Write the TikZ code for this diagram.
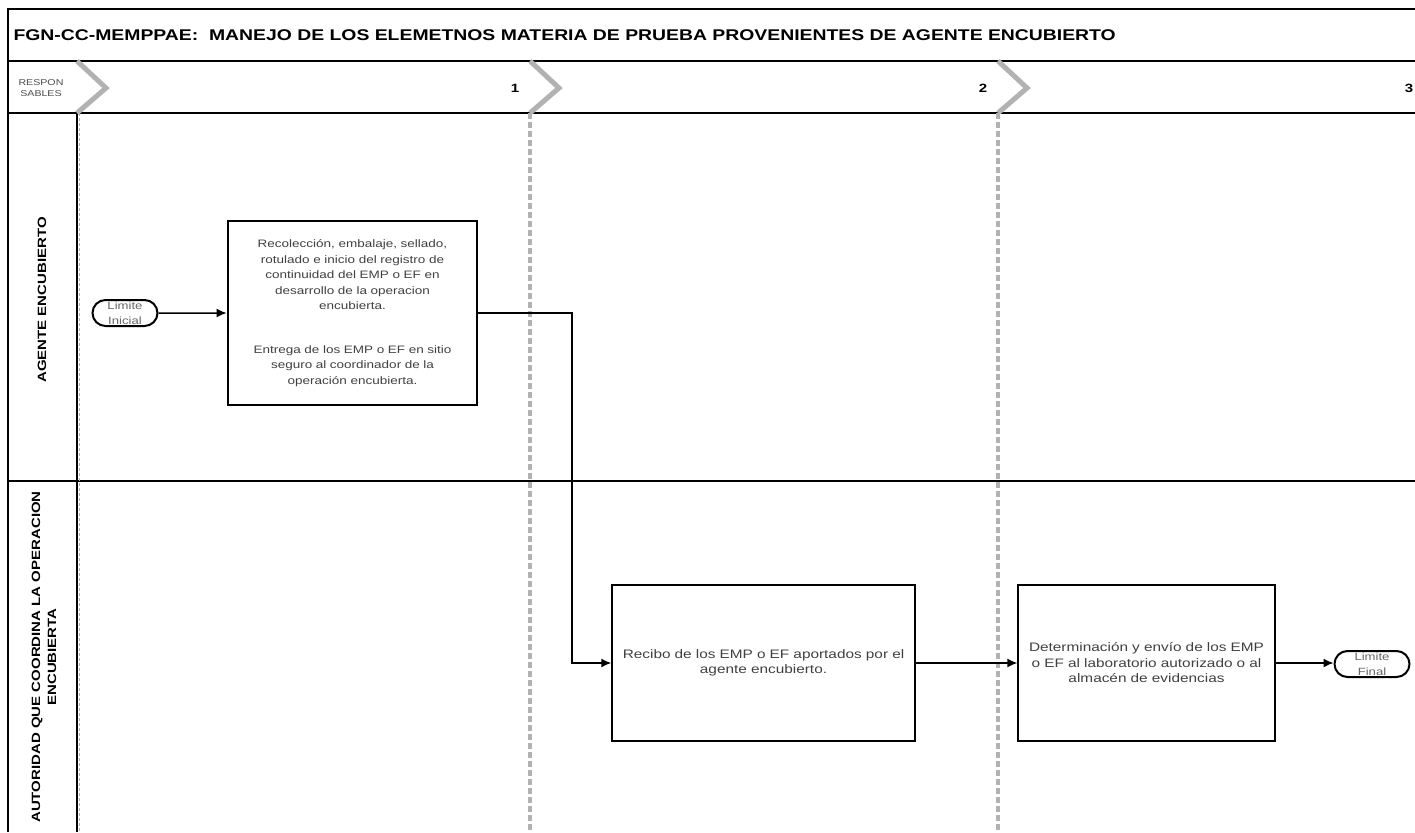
\documentclass[tikz,border=0pt]{standalone}
\usepackage{fontspec}
\setmainfont[FakeStretch=1.25]{Liberation Sans}
\usetikzlibrary{shapes.misc,positioning,arrows.meta}

\def\ttl{9}
\def\hdr{61}
\def\lns{113}
\def\lnb{481}
\def\W{1415}
\def\H{832}

\begin{document}
\begin{tikzpicture}[x=1pt,y=-1pt]
			\tikzset{flow/.style={-{Latex[length=10pt,width=9pt]}, line width=1.5pt},
				act/.style={draw, line width=1.5pt, align=center, text=black!75,
					font=\fontsize{12.3}{15.5}\selectfont},
				lim/.style={draw, rounded rectangle, line width=2pt, minimum height=26pt,
					inner sep=0pt, align=center, text=black!60,
					font=\fontsize{10.5}{15}\selectfont},
				chev/.style={draw=black!30, line width=5pt},
				sep/.style={draw=black!30, line width=4pt, dash pattern=on 6pt off 3pt},
				frame/.style={draw, line width=1.5pt},
				lane/.style={rotate=90, align=center, font=\bfseries\fontsize{12}{16}\selectfont},
				num/.style={font=\bfseries\fontsize{12}{14}\selectfont}}
			\useasboundingbox (0,0) rectangle (\W,\H);
			% marco
			\draw[frame] (\W,\ttl) -- (8,\ttl) -- (8,\H);
			\draw[frame] (8,\hdr) -- (\W,\hdr);
			\draw[frame] (8,\lns) -- (\W,\lns);
			\draw[frame] (8,\lnb) -- (\W,\lnb);
			\draw[frame] (77,\lns) -- (77,\H);
			\draw[draw=black!30, line width=1pt, dash pattern=on 3pt off 2pt] (79.5,\lns) -- (79.5,\H);
			\node[anchor=west, font=\bfseries\fontsize{15.5}{17}\selectfont] (title) at (10,35)
				{FGN-CC-MEMPPAE:\ \ MANEJO DE LOS ELEMETNOS MATERIA DE PRUEBA PROVENIENTES DE AGENTE ENCUBIERTO};
			% fases
			\node[align=center, text=black!70, font=\fontsize{8.5}{11}\selectfont] (resp) at (41,88) {RESPON\\SABLES};
			\foreach \x in {77,530,998}
				\draw[chev] (\x,\hdr) -- (\x+29,88) -- (\x,\lns);
			\foreach \x in {530,998}
				\draw[sep] (\x,\lns) -- (\x,\H);
			\node[num] (n1) at (515,88) {1};
			\node[num] (n2) at (983,88) {2};
			\node[num] (n3) at (1409,88) {3};
			% carriles
			\node[lane] (l1) at (42,300) {AGENTE ENCUBIERTO};
			\node[lane] (l2) at (44,657) {AUTORIDAD QUE COORDINA LA OPERACION\\ENCUBIERTA};
			% actividades
			\node[lim, minimum width=65pt] (ini) at (125,313) {Limite\\Inicial};
			\node[act, line width=2.8pt, minimum width=249pt, minimum height=184pt, text width=240pt,
				font=\fontsize{10.8}{15.5}\selectfont] (act1) at (352.5,313)
				{Recolección, embalaje, sellado,\\rotulado e inicio del registro de\\continuidad del EMP o EF en\\desarrollo de la operacion\\encubierta.\\[28pt]Entrega de los EMP o EF en sitio\\seguro al coordinador de la\\operación encubierta.};
			\node[act, minimum width=303pt, minimum height=156pt, text width=295pt] (act2) at (763.5,663)
				{Recibo de los EMP o EF aportados por el\\agente encubierto.};
			\node[act, minimum width=253pt, minimum height=156pt, text width=250pt] (act3) at (1146.5,663)
				{Determinación y envío de los EMP\\o EF al laboratorio autorizado o al\\almacén de evidencias};
			\node[lim, minimum width=75pt] (fin) at (1372,664) {Limite\\Final};
			% conectores
			\coordinate (turn) at (572,313);
			\draw[flow] (ini) -- (act1);
			\draw[flow] (act1.east) -- (turn) |- (act2.west);
			\draw[flow] (act2) -- (act3);
			\draw[flow] (act3.east) -- (fin.west |- act3.east);
		\end{tikzpicture}
\end{document}
